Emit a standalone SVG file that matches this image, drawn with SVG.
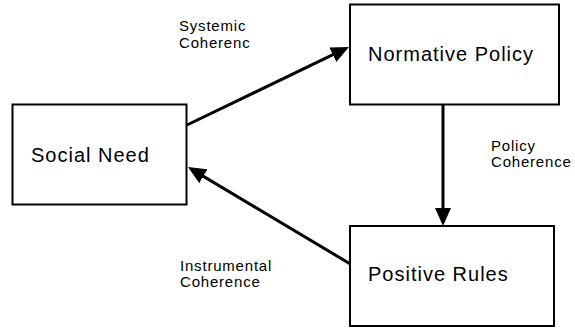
<svg xmlns="http://www.w3.org/2000/svg" width="575" height="328" viewBox="0 0 575 328">
<style>
.box{fill:#fff;stroke:#000;stroke-width:2}
.big{font-family:"Liberation Sans",Arial,sans-serif;font-size:20px;letter-spacing:1px;fill:#000}
.lbl{font-family:"Liberation Sans",Arial,sans-serif;font-size:15px;letter-spacing:0.8px;fill:#000}
.edge{stroke:#000;stroke-width:3;fill:none}
</style>
<defs>
<marker id="ah" markerUnits="userSpaceOnUse" markerWidth="18" markerHeight="16" refX="14" refY="8" orient="auto" viewBox="0 0 18 16">
<path d="M0,0 L18,8 L0,16 z" fill="#000"/>
</marker>
</defs>
<g id="connectors">
<line class="edge" x1="187" y1="125" x2="345.4" y2="48.7" marker-end="url(#ah)"/>
<line class="edge" x1="443" y1="105" x2="443" y2="222" marker-end="url(#ah)"/>
<line class="edge" x1="352" y1="265" x2="191.4" y2="169.1" marker-end="url(#ah)"/>
</g>
<g id="social-need">
<rect class="box" x="12.5" y="104.5" width="174" height="100"/>
<text class="big" x="31" y="162">Social Need</text>
</g>
<g id="normative-policy">
<rect class="box" x="350" y="4.5" width="209" height="100"/>
<text class="big" x="368" y="61">Normative Policy</text>
</g>
<g id="positive-rules">
<rect class="box" x="350" y="226" width="204" height="100"/>
<text class="big" x="368" y="281">Positive Rules</text>
</g>
<g id="labels">
<text class="lbl" x="179" y="31">Systemic</text>
<text class="lbl" x="179" y="48">Coherenc</text>
<text class="lbl" x="491" y="151">Policy</text>
<text class="lbl" x="491" y="167">Coherence</text>
<text class="lbl" x="180" y="271">Instrumental</text>
<text class="lbl" x="180" y="287">Coherence</text>
</g>
</svg>
